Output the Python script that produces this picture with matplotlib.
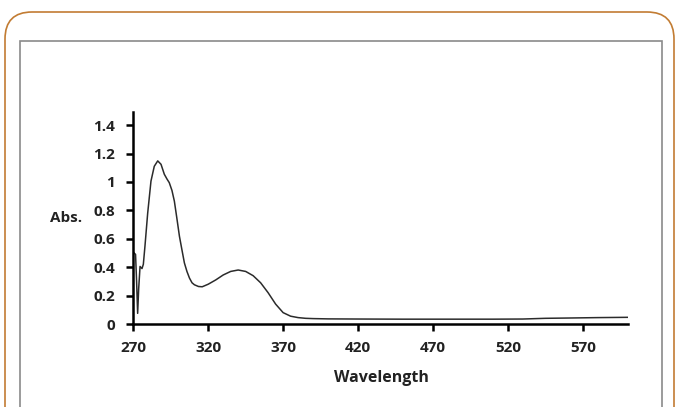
import matplotlib
matplotlib.use("Agg")
import matplotlib.pyplot as plt
from matplotlib.patches import FancyBboxPatch, Rectangle
import numpy as np

wavelength = [270.5, 271.5, 272.2, 272.9, 273.6, 274.5, 275.8, 276.7, 277.8, 279.6,
              281.8, 284.0, 286.3, 288.5, 290.7, 292.5, 294.0, 295.8, 297.4, 299.0,
              300.8, 302.5, 304.1, 305.8, 307.5, 309.2, 310.8, 313.5, 316.0, 320.0,
              325.0, 330.0, 335.0, 340.0, 345.0, 350.0, 355.0, 360.0, 365.0, 370.0,
              375.0, 380.0, 385.0, 390.0, 400.0, 420.0, 450.0, 480.0, 510.0, 530.0,
              545.0, 560.0, 580.0, 600.0]
absorbance = [0.50, 0.49, 0.30, 0.075, 0.25, 0.405, 0.39, 0.42, 0.55, 0.78,
              1.006, 1.11, 1.148, 1.124, 1.054, 1.02, 0.995, 0.94, 0.865, 0.75,
              0.617, 0.52, 0.43, 0.37, 0.323, 0.29, 0.276, 0.264, 0.262, 0.28,
              0.31, 0.345, 0.37, 0.38, 0.37, 0.34, 0.29, 0.22, 0.14, 0.08,
              0.055, 0.045, 0.04, 0.038, 0.036, 0.035, 0.034, 0.034, 0.034, 0.035,
              0.04, 0.042, 0.045, 0.047]

xticks = [270, 320, 370, 420, 470, 520, 570]
yticks = [0, 0.2, 0.4, 0.6, 0.8, 1, 1.2, 1.4]
ytick_labels = ["0", "0.2", "0.4", "0.6", "0.8", "1", "1.2", "1.4"]

W, H = 676, 407
fig = plt.figure(figsize=(W / 100, H / 100), dpi=100)

# outer rounded frame
frame = FancyBboxPatch((5 / W, -0.2), (669 / W), (1 - 12 / H) + 0.2,
                       boxstyle="round,pad=0,rounding_size=0.04",
                       transform=fig.transFigure, fill=False,
                       edgecolor="#C27C33", linewidth=1.2, mutation_aspect=W / H)
fig.patches.append(frame)
inner = Rectangle((20 / W, -0.1), (642 / W), (1 - 41 / H) + 0.1,
                  transform=fig.transFigure, fill=False,
                  edgecolor="#8a8a8a", linewidth=1.2)
fig.patches.append(inner)

ax = fig.add_axes([133.3 / W, 1 - 324 / H, (627.7 - 133.3) / W, (324 - 112.3) / H])
ax.plot(wavelength, absorbance, color="#2b2b2b", linewidth=1.1)
ax.set_xlim(270, 600)
ax.set_ylim(0, 1.49)
ax.set_xticks(xticks)
ax.set_yticks(yticks)
ax.set_yticklabels(ytick_labels)

FAM = "Open Sans"
TICK_SIZE = 11
for lab in ax.get_xticklabels() + ax.get_yticklabels():
    lab.set_fontfamily(FAM)
    lab.set_fontweight("bold")
    lab.set_fontsize(TICK_SIZE)
    lab.set_color("#222222")

ax.spines["top"].set_visible(False)
ax.spines["right"].set_visible(False)
for s in ["left", "bottom"]:
    ax.spines[s].set_linewidth(1.8)
    ax.spines[s].set_color("black")
ax.tick_params(axis="both", direction="out", length=5, width=1.8, color="black")
ax.tick_params(axis="x", pad=7)
ax.tick_params(axis="y", pad=8)

fig.text(66 / W, 1 - 218 / H, "Abs.", ha="center", va="center", color="#222222",
         family=FAM, weight="bold", size=11)
fig.text(381 / W, 1 - 378 / H, "Wavelength", ha="center", va="center", color="#222222",
         family=FAM, weight="bold", size=11.5)

fig.savefig("out.png", dpi=100)
